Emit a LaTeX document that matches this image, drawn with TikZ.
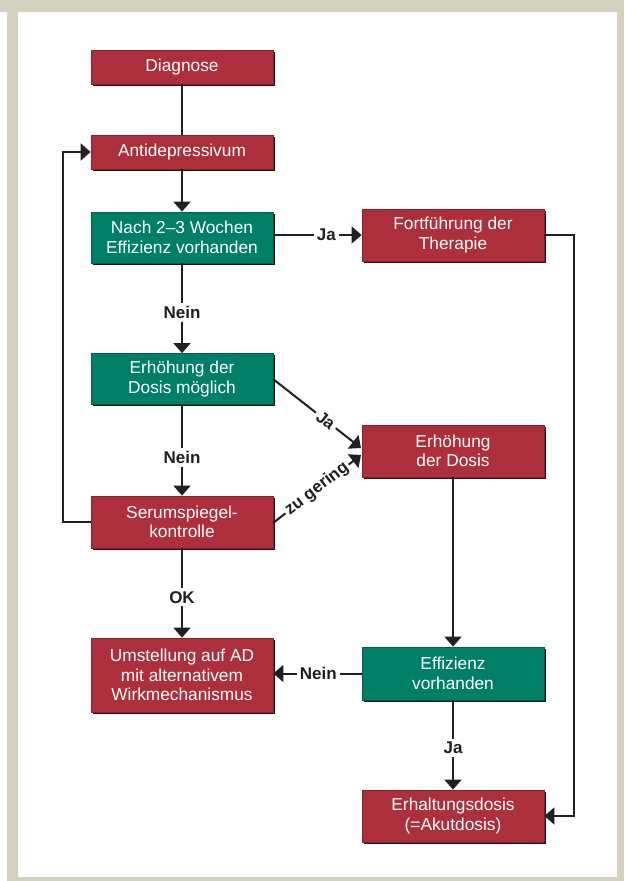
\documentclass[tikz,border=0pt]{standalone}
\usepackage{fontspec}
\setmainfont{Liberation Sans}
\usetikzlibrary{arrows.meta,shadows}
\definecolor{frame}{RGB}{212,209,190}
\definecolor{boxred}{RGB}{174,47,60}
\definecolor{boxgreen}{RGB}{0,127,103}
\definecolor{lineblack}{RGB}{35,31,32}
\tikzset{
  x=1pt, y=-1pt,
  box/.style={minimum width=182pt, inner sep=2pt, align=center, text=white,
    font=\fontsize{17.3}{19.5}\selectfont,
    general shadow={fill=black!75!boxred, shadow xshift=1.5pt, shadow yshift=-1.5pt}},
  redbox/.style={box, fill=boxred, draw=boxred!75!black, line width=0.8pt},
  greenbox/.style={box, fill=boxgreen, draw=boxgreen!75!black, line width=0.8pt},
  conn/.style={draw=lineblack, line width=2pt},
  arr/.style={conn, -{Triangle[length=10pt,width=17pt]}},
  lbl/.style={fill=white, inner sep=3pt, font=\bfseries\fontsize{17}{19}\selectfont, text=lineblack}
}
\begin{document}
\begin{tikzpicture}
\useasboundingbox (0,0) rectangle (624,881);
\fill[frame] (0,0) rectangle (624,881);
\fill[white] (0,12) rectangle (7,881);
\fill[white] (18,12) rectangle (617,877);

\node[redbox, minimum height=34pt] (diag) at (182,67) {Diagnose};
\node[redbox, minimum height=34pt] (anti) at (182,152) {Antidepressivum};
\node[greenbox, minimum height=51pt] (nach) at (182,237.5) {Nach 2–3 Wochen\\Effizienz vorhanden};
\node[redbox, minimum height=52pt] (fort) at (453,235) {Fortführung der\\Therapie};
\node[greenbox, minimum height=51pt] (erhm) at (182,379) {Erhöhung der\\Dosis möglich};
\node[redbox, minimum height=52pt] (erhd) at (453,451) {Erhöhung\\der Dosis};
\node[redbox, minimum height=52pt] (serum) at (182,522) {Serumspiegel-\\kontrolle};
\node[redbox, minimum height=74pt] (umst) at (182,675) {Umstellung auf AD\\mit alternativem\\Wirkmechanismus};
\node[greenbox, minimum height=53pt] (eff) at (453,673.5) {Effizienz\\vorhanden};
\node[redbox, minimum height=52pt] (erh) at (453,816) {Erhaltungsdosis\\(=Akutdosis)};

\coordinate (erhmout) at (273,379);
\coordinate (serumout) at (273,523);
\coordinate (tipja) at (361,448);
\coordinate (tipzu) at (361,455);
\coordinate (rtop) at (574,235);
\coordinate (rbot) at (574,816);
\coordinate (lbot) at (63,522);
\coordinate (ltop) at (63,152);

\draw[conn] (diag) -- (anti);
\draw[arr] (anti) -- (nach);
\draw[arr] (nach.east |- fort.west) -- node[lbl, pos=0.6] {Ja} (fort.west);
\draw[arr] (nach) -- node[lbl, pos=0.55] {Nein} (erhm);
\draw[arr] (erhm) -- node[lbl, pos=0.58] {Nein} (serum);
\draw[arr] (serum) -- node[lbl, pos=0.55] {OK} (umst);
\draw[arr] (erhmout) -- node[lbl, sloped, pos=0.6] {Ja} (tipja);
\draw[arr] (serumout) -- node[lbl, sloped, pos=0.5, inner sep=2pt] {zu gering} (tipzu);
\draw[arr] (erhd) -- (eff);
\draw[arr] (eff.west) -- node[lbl, pos=0.49] {Nein} (eff.west -| umst.east);
\draw[arr] (eff) -- node[lbl, pos=0.53] {Ja} (erh);
\draw[arr] (fort.east) -- (rtop) -- (rbot) -- (erh.east);
\draw[arr] (serum.west) -- (lbot) -- (ltop) -- (anti.west);
\end{tikzpicture}
\end{document}
